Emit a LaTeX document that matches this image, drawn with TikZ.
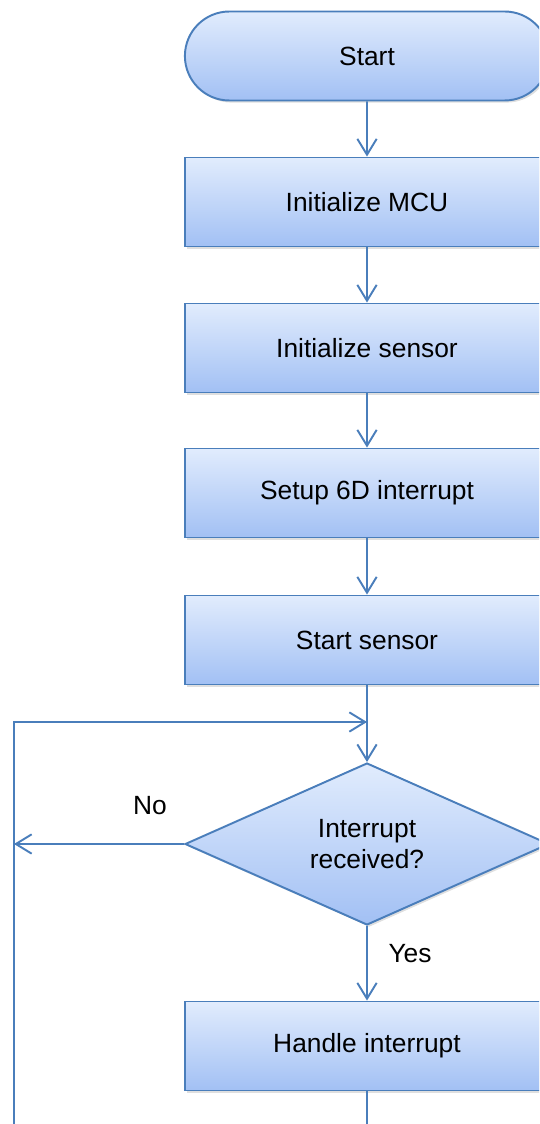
\documentclass[tikz,border=0pt]{standalone}
\usepackage{xcolor}
\usepackage{fontspec}
\setmainfont{Liberation Sans}
\usepackage{tikz}
\usetikzlibrary{shapes,arrows,positioning,calc,shadows,arrows.meta}

\definecolor{flowline}{HTML}{4A7EBB}
\definecolor{flowtop}{HTML}{E1ECFD}
\definecolor{flowbot}{HTML}{A2C0F4}

\tikzset{
  flowbox/.style={draw=flowline, line width=1.1pt, top color=flowtop, bottom color=flowbot,
    drop shadow={opacity=0.25, shadow xshift=1.2pt, shadow yshift=-1.2pt},
    minimum width=7.28cm, minimum height=1.78cm, font=\fontsize{15}{18}\selectfont, text=black},
  termbox/.style={flowbox, rounded rectangle, minimum width=7.52cm},
  decbox/.style={flowbox, diamond, aspect=2.25, inner sep=0pt, minimum width=7.28cm, minimum height=3.24cm, align=center},
  flowarrow/.style={draw=flowline, line width=1.1pt, -{Straight Barb[length=9pt,width=11pt]}},
  flowlabel/.style={font=\fontsize{15}{18}\selectfont}
}

\begin{document}
\begin{tikzpicture}[x=0.02cm, y=-0.02cm]
        \useasboundingbox (0,0) rectangle (539,1124);
        \clip (0,0) rectangle (539,1124);

        % Steps
        \node[termbox] (start) at (367,56) {Start};
        \node[flowbox] (initmcu) at (367,202) {Initialize MCU};
        \node[flowbox] (initsens) at (367,348) {Initialize sensor};
        \node[flowbox] (setup) at (367,493) {Setup 6D interrupt};
        \node[flowbox] (startsens) at (367,640) {Start sensor};
        \node[decbox] (irq) at (367,844) {Interrupt\\received?};
        \node[flowbox] (handle) at (367,1046) {Handle interrupt};

        % Loop points
        \coordinate (join) at (367,722);
        \coordinate (loopbot) at (367,1160);
        \coordinate (loopleft) at (14,1160);
        \coordinate (noend) at (14,844);

        % Straight flow
        \draw[flowarrow] (start) -- (initmcu);
        \draw[flowarrow] (initmcu) -- (initsens);
        \draw[flowarrow] (initsens) -- (setup);
        \draw[flowarrow] (setup) -- (startsens);
        \draw[flowarrow] (startsens) -- (irq);
        \draw[flowarrow] (irq) -- (handle);

        % Back to the check
        \draw[flowarrow] (irq.west) -- (noend);
        \draw[flowarrow] (handle.south) -- (loopbot) -- (loopleft) |- (join);

        % Labels
        \node[flowlabel] (nolbl) at (150,806) {No};
        \node[flowlabel] (yeslbl) at (410,954) {Yes};
    \end{tikzpicture}
\end{document}
